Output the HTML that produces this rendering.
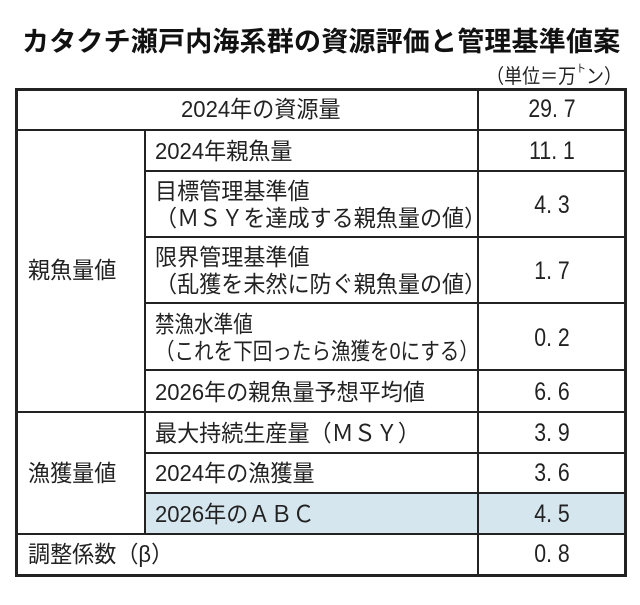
<!DOCTYPE html>
<html><head><meta charset="utf-8"><style>
body{margin:0;background:#fff;width:640px;height:605px;position:relative;overflow:hidden;font-family:"Liberation Sans","Noto Sans CJK JP",sans-serif;color:#222}
.t{position:absolute;white-space:nowrap}
.h{position:absolute;background:#222;height:2px}
.v{position:absolute;background:#222;width:2px}
.c{position:absolute;font-size:23px;line-height:27px;white-space:nowrap;transform:scaleX(0.96);transform-origin:left top}
.n{position:absolute;font-size:25px;line-height:27px;white-space:nowrap;width:144px;text-align:center;transform:scaleX(0.85);transform-origin:center top}
</style></head><body>
<div class="t" style="left:22px;top:20px;font-size:27px;font-weight:bold;letter-spacing:0.2px;color:#111">カタクチ瀬戸内海系群の資源評価と管理基準値案</div>
<div class="t" style="right:18px;top:60px;font-size:20px;transform:scaleX(0.9);transform-origin:right top">（単位＝万<span style="font-size:11px;vertical-align:top">ト</span>ン）</div>
<div style="position:absolute;left:145px;top:493px;width:333px;height:41px;background:#d6e6ef"></div>
<div style="position:absolute;left:478px;top:493px;width:146px;height:41px;background:#d6e6ef"></div>
<div style="position:absolute;left:15px;top:88px;width:606px;height:483px;border:3px solid #222"></div>
<div class="h" style="left:15px;top:129px;width:610px"></div>
<div class="h" style="left:145px;top:170px;width:480px"></div>
<div class="h" style="left:145px;top:236px;width:480px"></div>
<div class="h" style="left:145px;top:302px;width:480px"></div>
<div class="h" style="left:145px;top:369px;width:480px"></div>
<div class="h" style="left:15px;top:411px;width:610px"></div>
<div class="h" style="left:145px;top:452px;width:480px"></div>
<div class="h" style="left:145px;top:492px;width:480px"></div>
<div class="h" style="left:15px;top:533px;width:610px"></div>
<div class="v" style="left:477px;top:88px;height:486px"></div>
<div class="v" style="left:144px;top:129px;height:405px"></div>
<div class="c" style="left:160px;top:96px;width:210px;text-align:center">2024年の資源量</div>
<div class="n" style="left:480px;top:96px">29. 7</div>
<div class="c" style="left:155px;top:138px">2024年親魚量</div>
<div class="n" style="left:480px;top:138px">11. 1</div>
<div class="c" style="left:155px;top:178px">目標管理基準値<br>（ＭＳＹを達成する親魚量の値）</div>
<div class="n" style="left:480px;top:192px">4. 3</div>
<div class="c" style="left:155px;top:244px">限界管理基準値<br>（乱獲を未然に防ぐ親魚量の値）</div>
<div class="n" style="left:480px;top:258px">1. 7</div>
<div class="c" style="left:155px;top:311px;transform:scaleX(0.85)">禁漁水準値<br>（これを下回ったら漁獲を0にする）</div>
<div class="n" style="left:480px;top:325px">0. 2</div>
<div class="c" style="left:155px;top:379px">2026年の親魚量予想平均値</div>
<div class="n" style="left:480px;top:379px">6. 6</div>
<div class="c" style="left:28px;top:257px">親魚量値</div>
<div class="c" style="left:155px;top:420px">最大持続生産量（ＭＳＹ）</div>
<div class="n" style="left:480px;top:420px">3. 9</div>
<div class="c" style="left:155px;top:460px">2024年の漁獲量</div>
<div class="n" style="left:480px;top:460px">3. 6</div>
<div class="c" style="left:155px;top:501px">2026年のＡＢＣ</div>
<div class="n" style="left:480px;top:501px">4. 5</div>
<div class="c" style="left:28px;top:460px">漁獲量値</div>
<div class="c" style="left:28px;top:541px">調整係数（β）</div>
<div class="n" style="left:480px;top:541px">0. 8</div>
</body></html>
